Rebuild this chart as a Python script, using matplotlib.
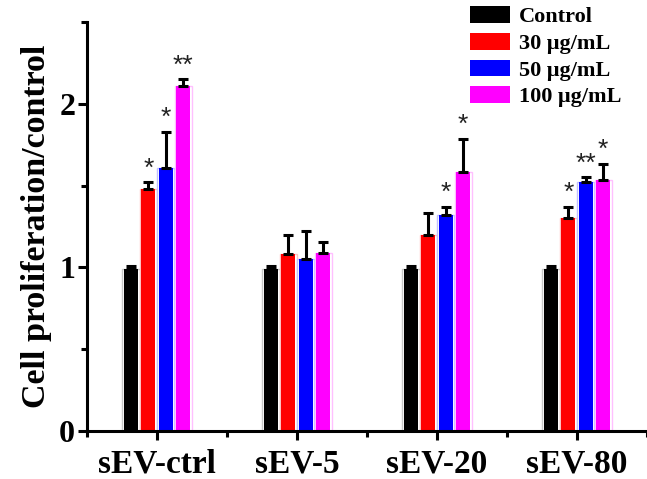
import numpy as np
import matplotlib
matplotlib.use('Agg')
import matplotlib.pyplot as plt
from matplotlib.ticker import MultipleLocator

groups = ['sEV-ctrl', 'sEV-5', 'sEV-20', 'sEV-80']
series = ['Control', '30 \u03bcg/mL', '50 \u03bcg/mL', '100 \u03bcg/mL']
colors = ['black', 'red', 'blue', 'magenta']
edge_colors = ['#c8c8c8', '#ffc0c0', '#c0c0ff', '#ffc0ff']

control = [0.99, 0.99, 0.99, 0.99]
dose30 = [1.48, 1.08, 1.20, 1.30]
dose50 = [1.61, 1.05, 1.32, 1.52]
dose100 = [2.11, 1.09, 1.585, 1.535]

control_err = [0.02, 0.02, 0.02, 0.02]
dose30_err = [0.04, 0.12, 0.13, 0.07]
dose50_err = [0.22, 0.17, 0.05, 0.03]
dose100_err = [0.04, 0.065, 0.20, 0.10]

control_sig = ['', '', '', '']
dose30_sig = ['*', '', '', '*']
dose50_sig = ['*', '', '*', '**']
dose100_sig = ['**', '', '*', '*']


def main():
    plt.rcParams['font.family'] = ['Liberation Serif', 'DejaVu Serif']
    plt.rcParams['font.weight'] = 'bold'

    fig = plt.figure(figsize=(6.47, 4.79), dpi=100)
    ax = fig.add_axes([87 / 647, 48 / 479, 560 / 647, 409 / 479])

    values = [control, dose30, dose50, dose100]
    errors = [control_err, dose30_err, dose50_err, dose100_err]
    sigs = [control_sig, dose30_sig, dose50_sig, dose100_sig]

    x = np.arange(len(groups))
    step = 0.124
    width = 0.1
    for i in range(len(series)):
        pos = x + (i - 1.5) * step
        # pale outline around each bar
        ax.bar(pos, values[i], width=width + 0.022, color='white',
               edgecolor=edge_colors[i], linewidth=1.0, zorder=1)
        ax.bar(pos, values[i], width=width, color=colors[i], label=series[i],
               edgecolor=edge_colors[i], linewidth=0.0, zorder=2)
        ax.errorbar(pos, values[i], yerr=[np.zeros(len(groups)), errors[i]],
                    fmt='none', ecolor='black', elinewidth=2.2, capsize=3.8,
                    capthick=2.2, zorder=3)
        for p, v, e, s in zip(pos, values[i], errors[i], sigs[i]):
            if s:
                ax.annotate(s, (p, v + e), xytext=(0, 10), textcoords='offset points',
                            ha='center', va='center', fontsize=19, color='#222222',
                            family='Liberation Sans', fontweight='normal')

    ax.set_xlim(-0.5, 3.5)
    ax.set_ylim(0, 2.5)
    ax.set_xticks(x)
    ax.set_xticklabels(groups, fontsize=24, fontweight='bold')
    ax.xaxis.set_minor_locator(MultipleLocator(1.0, offset=0.5))
    ax.set_yticks([0, 1, 2])
    ax.set_yticklabels(['0', '1', '2'], fontsize=23, fontweight='bold')
    ax.yaxis.set_minor_locator(MultipleLocator(0.5))
    ax.set_ylabel('Cell proliferation/control', fontsize=24.5, fontweight='bold', labelpad=5)

    for side in ['top', 'right']:
        ax.spines[side].set_visible(False)
    for side in ['left', 'bottom']:
        ax.spines[side].set_linewidth(2.2)
    ax.tick_params(which='major', direction='out', length=6.5, width=2.2, pad=2)
    ax.tick_params(which='minor', direction='out', length=4, width=2.2)
    ax.tick_params(axis='x', which='major', pad=6)

    handles, labels = ax.get_legend_handles_labels()
    ax.legend(handles, labels, loc='upper left', bbox_to_anchor=(466 / 647, 1 - 2 / 479),
              bbox_transform=fig.transFigure, frameon=False, fontsize=16,
              handlelength=1.8, handleheight=0.77, handletextpad=0.4,
              labelspacing=0.25, borderpad=0.2, borderaxespad=0)

    fig.savefig('out.png', dpi=100)


if __name__ == "__main__":
    main()
